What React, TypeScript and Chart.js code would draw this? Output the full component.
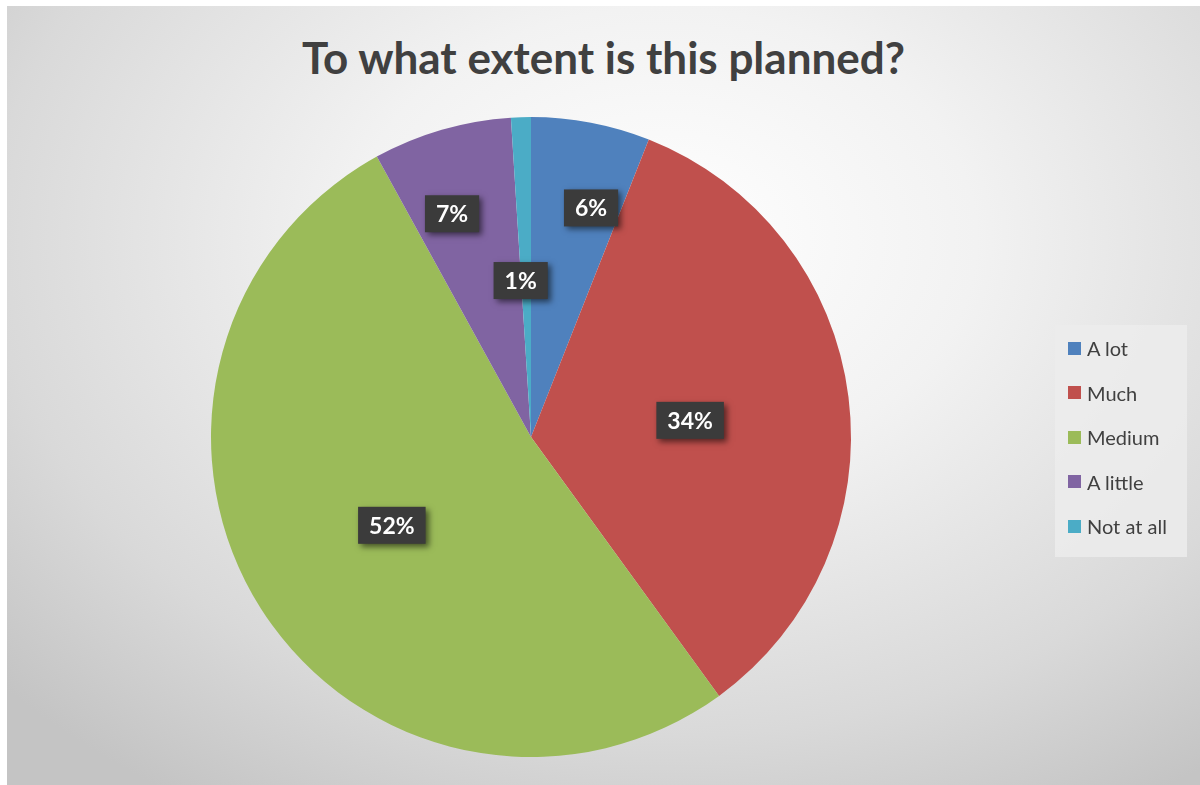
import React, { useEffect, useRef } from "react";
import { Chart, registerables } from "chart.js";

Chart.register(...registerables);

const titleText = "To what extent is this planned?";
const categories = ["A lot", "Much", "Medium", "A little", "Not at all"];
const percentValues = [6, 34, 52, 7, 1];
const sliceColors = ["#4F81BD", "#C0504D", "#9BBB59", "#8064A2", "#4BACC6"];
// label placement (fraction along slice angle, fraction of radius)
const labelAngleFrac = [0.68, 0.51, 0.5, 0.37, -0.05];
const labelRadiusFrac = [0.74, 0.5, 0.515, 0.74, 0.49];

const labelPlugin = {
  id: "boxLabels",
  afterDatasetsDraw(chart: any) {
    const ctx = chart.ctx;
    const meta = chart.getDatasetMeta(0);
    const data = chart.data.datasets[0].data as number[];
    ctx.save();
    ctx.font = "bold 23px Lato, 'Open Sans', sans-serif";
    meta.data.forEach((arc: any, i: number) => {
      const p = arc.getProps(["x", "y", "startAngle", "endAngle", "outerRadius"], true);
      const a = p.startAngle + (p.endAngle - p.startAngle) * labelAngleFrac[i];
      const r = p.outerRadius * labelRadiusFrac[i];
      const cx = p.x + r * Math.cos(a);
      const cy = p.y + r * Math.sin(a);
      const txt = data[i] + "%";
      const tw = ctx.measureText(txt).width;
      const w = tw + 22;
      const h = 37;
      ctx.save();
      ctx.shadowColor = "rgba(0,0,0,0.55)";
      ctx.shadowBlur = 6;
      ctx.shadowOffsetX = 3;
      ctx.shadowOffsetY = 3;
      ctx.fillStyle = "#3b3b3b";
      ctx.fillRect(cx - w / 2, cy - h / 2, w, h);
      ctx.restore();
      ctx.fillStyle = "#ffffff";
      ctx.textAlign = "center";
      ctx.textBaseline = "middle";
      ctx.fillText(txt, cx, cy + 1);
    });
    ctx.restore();
  },
};

export default function App() {
  const ref = useRef<HTMLCanvasElement | null>(null);
  useEffect(() => {
    document.body.style.margin = "0";
    const chart = new Chart(ref.current as HTMLCanvasElement, {
      type: "pie",
      data: {
        labels: categories,
        datasets: [
          {
            data: percentValues,
            backgroundColor: sliceColors,
            borderWidth: 0,
          },
        ],
      },
      options: {
        responsive: false,
        animation: false,
        devicePixelRatio: 1,
        layout: { padding: { left: 204, right: 349, top: 111, bottom: 28 } },
        plugins: {
          legend: { display: false },
          title: { display: false },
          tooltip: { enabled: false },
        },
      },
      plugins: [labelPlugin],
    });
    return () => chart.destroy();
  }, []);

  return (
    <div style={{ position: "relative", width: 1200, height: 785, background: "#ffffff", overflow: "hidden" }}>
      <div
        style={{
          position: "absolute",
          left: 7,
          top: 6,
          width: 1193,
          height: 779,
          background:
            "radial-gradient(ellipse 75% 85% at 55% 30%, #ffffff 0%, #f2f2f2 35%, #d9d9d9 75%, #c4c4c4 100%)",
        }}
      >
        <div
          style={{
            position: "absolute",
            left: 0,
            top: 24,
            width: 1193,
            textAlign: "center",
            fontFamily: "Lato, 'Open Sans', sans-serif",
            fontWeight: 700,
            fontSize: 44,
            color: "#404040",
            lineHeight: "54px",
          }}
        >
          {titleText}
        </div>
        <canvas ref={ref} width={1193} height={779} style={{ position: "absolute", left: 0, top: 0 }} />
        <div
          style={{
            position: "absolute",
            left: 1048,
            top: 319,
            width: 132,
            height: 232,
            background: "rgba(236,236,236,0.85)",
            fontFamily: "Lato, 'Open Sans', sans-serif",
            fontSize: 20,
            color: "#404040",
            paddingTop: 1,
            boxSizing: "border-box",
          }}
        >
          {categories.map((c, i) => (
            <div key={c} style={{ display: "flex", alignItems: "center", height: 44.5, paddingLeft: 13 }}>
              <span style={{ display: "inline-block", width: 13, height: 13, background: sliceColors[i], marginRight: 6 }} />
              <span>{c}</span>
            </div>
          ))}
        </div>
      </div>
    </div>
  );
}
